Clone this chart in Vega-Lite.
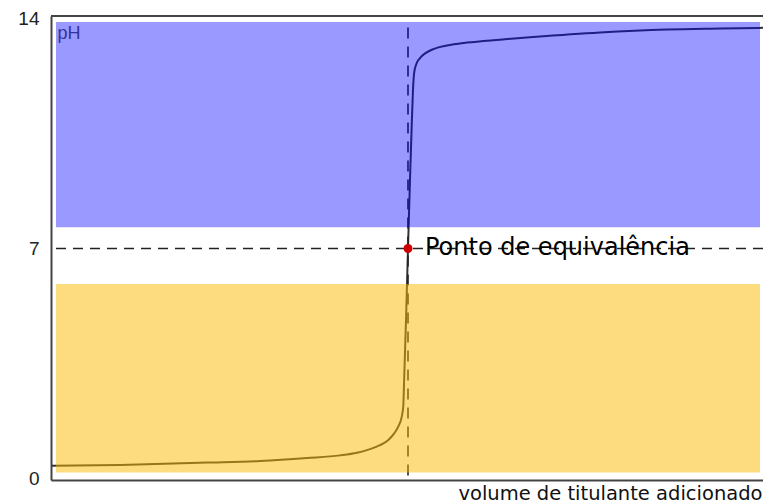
{
  "$schema": "https://vega.github.io/schema/vega-lite/v6.json",
  "width": 712,
  "height": 464,
  "autosize": {"type": "none"},
  "padding": {"left": 51, "top": 16, "right": 0, "bottom": 24},
  "background": "white",
  "config": {"view": {"stroke": null}},
  "datasets": {
    "curve": [
      {"v": 0.07, "pH": 0.37},
      {"v": 4.85, "pH": 0.40},
      {"v": 10.96, "pH": 0.47},
      {"v": 14.68, "pH": 0.52},
      {"v": 17.98, "pH": 0.61},
      {"v": 20.29, "pH": 0.69},
      {"v": 21.49, "pH": 0.77},
      {"v": 22.40, "pH": 0.88},
      {"v": 23.10, "pH": 1.0},
      {"v": 23.67, "pH": 1.15},
      {"v": 24.10, "pH": 1.36},
      {"v": 24.40, "pH": 1.58},
      {"v": 24.62, "pH": 1.85},
      {"v": 24.74, "pH": 2.2},
      {"v": 24.80, "pH": 3.0},
      {"v": 24.93, "pH": 4.82},
      {"v": 25.07, "pH": 7.0},
      {"v": 25.21, "pH": 9.09},
      {"v": 25.32, "pH": 10.61},
      {"v": 25.42, "pH": 11.83},
      {"v": 25.50, "pH": 12.35},
      {"v": 25.65, "pH": 12.62},
      {"v": 25.90, "pH": 12.80},
      {"v": 26.30, "pH": 12.96},
      {"v": 26.90, "pH": 13.09},
      {"v": 27.80, "pH": 13.19},
      {"v": 29.21, "pH": 13.28},
      {"v": 31.53, "pH": 13.37},
      {"v": 33.85, "pH": 13.45},
      {"v": 38.55, "pH": 13.59},
      {"v": 43.26, "pH": 13.68},
      {"v": 46.98, "pH": 13.71},
      {"v": 50.0, "pH": 13.73}
    ],
    "zones": [
      {"zone": "básico", "x1": 0.35, "x2": 49.79, "y1": 7.65, "y2": 13.91},
      {"zone": "ácido", "x1": 0.35, "x2": 49.79, "y1": 0.17, "y2": 5.92}
    ],
    "eq": [{"v": 25.07, "pH": 7, "lo": 0.08, "hi": 13.95, "label": "Ponto de equivalência"}],
    "neutral": [{"pH": 7}],
    "top": [{"pH": 14.0915}],
    "phlabel": [{"v": 0.35, "pH": 13.91, "label": "pH"}]
  },
  "layer": [
    {
      "data": {"name": "curve"},
      "mark": {"type": "line", "interpolate": "monotone", "strokeWidth": 2, "color": "#333"},
      "encoding": {
        "x": {
          "field": "v", "type": "quantitative",
          "scale": {"domain": [0, 50], "nice": false, "zero": false},
          "title": "volume de titulante adicionado",
          "axis": {
            "labels": false, "ticks": false, "grid": false,
            "domain": true, "domainColor": "#444", "domainWidth": 2,
            "title": "volume de titulante adicionado",
            "titleFont": "DejaVu Sans", "titleFontSize": 19.5, "titleFontWeight": "normal",
            "titleColor": "#111", "titleAlign": "right", "titleAnchor": null,
            "titleX": 711, "titleY": 19, "titleBaseline": "alphabetic"
          }
        },
        "y": {
          "field": "pH", "type": "quantitative",
          "scale": {"domain": [-0.061, 14.0915], "nice": false, "zero": false},
          "title": null,
          "axis": {
            "values": [0, 7, 14], "ticks": false, "grid": false,
            "domain": true, "domainColor": "#444", "domainWidth": 2,
            "labelFont": "Liberation Sans", "labelFontSize": 19, "labelColor": "#222",
            "labelPadding": 12, "title": null
          }
        }
      }
    },
    {
      "data": {"name": "neutral"},
      "mark": {"type": "rule", "strokeDash": [10, 7], "strokeWidth": 1.6, "color": "#222"},
      "encoding": {"y": {"field": "pH", "type": "quantitative", "title": null}}
    },
    {
      "data": {"name": "eq"},
      "mark": {"type": "rule", "strokeDash": [11, 8], "strokeWidth": 1.6, "color": "#222"},
      "encoding": {
        "x": {"field": "v", "type": "quantitative", "title": "volume de titulante adicionado"},
        "y": {"field": "lo", "type": "quantitative", "title": null},
        "y2": {"field": "hi"}
      }
    },
    {
      "data": {"name": "zones"},
      "mark": {"type": "rect"},
      "encoding": {
        "x": {"field": "x1", "type": "quantitative", "title": "volume de titulante adicionado"},
        "x2": {"field": "x2"},
        "y": {"field": "y1", "type": "quantitative", "title": null},
        "y2": {"field": "y2"},
        "color": {
          "field": "zone", "type": "nominal", "legend": null,
          "scale": {"domain": ["básico", "ácido"], "range": ["#0000ff", "#fbb700"]}
        },
        "fillOpacity": {
          "field": "zone", "type": "nominal", "legend": null,
          "scale": {"domain": ["básico", "ácido"], "range": [0.4, 0.5]}
        }
      }
    },
    {
      "data": {"name": "top"},
      "mark": {"type": "rule", "strokeWidth": 2, "color": "#444"},
      "encoding": {"y": {"field": "pH", "type": "quantitative", "title": null}}
    },
    {
      "data": {"name": "eq"},
      "mark": {"type": "point", "filled": true, "size": 80, "color": "#cc0000", "opacity": 1},
      "encoding": {
        "x": {"field": "v", "type": "quantitative", "title": "volume de titulante adicionado"},
        "y": {"field": "pH", "type": "quantitative", "title": null}
      }
    },
    {
      "data": {"name": "eq"},
      "mark": {"type": "text", "align": "left", "baseline": "alphabetic", "dx": 17, "dy": 7, "font": "DejaVu Sans", "fontSize": 24, "color": "#000"},
      "encoding": {
        "x": {"field": "v", "type": "quantitative", "title": "volume de titulante adicionado"},
        "y": {"field": "pH", "type": "quantitative", "title": null},
        "text": {"field": "label"}
      }
    },
    {
      "data": {"name": "phlabel"},
      "mark": {"type": "text", "align": "left", "baseline": "alphabetic", "dx": 1.5, "dy": 17, "font": "Liberation Sans", "fontSize": 18, "color": "#33339a"},
      "encoding": {
        "x": {"field": "v", "type": "quantitative", "title": "volume de titulante adicionado"},
        "y": {"field": "pH", "type": "quantitative", "title": null},
        "text": {"field": "label"}
      }
    }
  ]
}
